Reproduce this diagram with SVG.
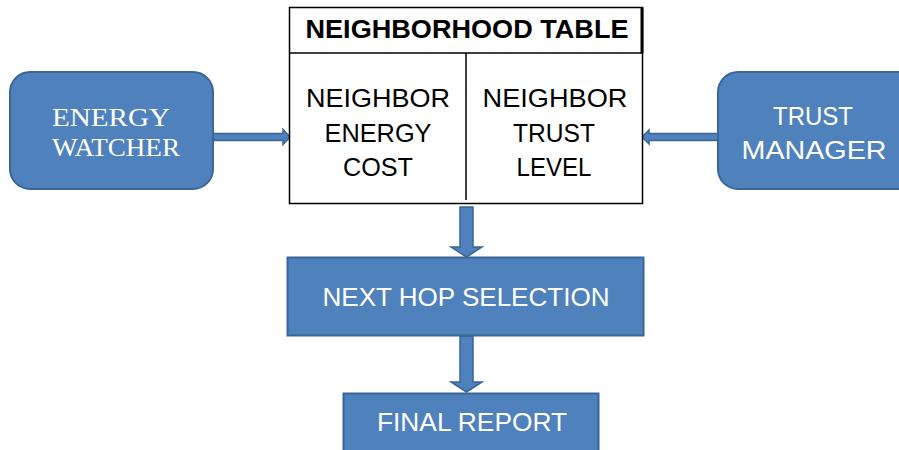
<svg xmlns="http://www.w3.org/2000/svg" width="899" height="450" viewBox="0 0 899 450">
<style>
.box{fill:#4F81BD;stroke:#3A6597;stroke-width:2}
.wt{fill:#FFFFFF;font-family:"Liberation Sans",Arial,sans-serif;font-size:26px;text-anchor:middle}
.serif{font-family:"Liberation Serif","Times New Roman",serif;font-size:26px}
.bt{fill:#000;font-family:"Liberation Sans",Arial,sans-serif;font-size:25px;text-anchor:middle}
.arr{fill:#4F81BD;stroke:#3A6597;stroke-width:1.5}
</style>
<rect width="899" height="450" fill="#FFFFFF"/>
<g id="connectors">
<path class="arr" d="M213,133.5 H283 V129.5 L290,137 L283,144.5 V140.5 H213 Z"/>
<path class="arr" d="M718,133.5 H649 V130 L642,137 L649,144 V140.5 H718 Z"/>
<path class="arr" d="M460,207 H473 V247 H482 L466.5,257 L451,247 H460 Z"/>
<path class="arr" d="M460,336 H473 V382 H482 L466.5,392 L451,382 H460 Z"/>
</g>
<g id="energy-watcher">
<rect class="box" x="10" y="72" width="203" height="117" rx="20"/>
<text class="wt serif" x="111" y="126" textLength="118" lengthAdjust="spacingAndGlyphs">ENERGY</text>
<text class="wt serif" x="116" y="156" textLength="128" lengthAdjust="spacingAndGlyphs">WATCHER</text>
</g>
<g id="trust-manager">
<rect class="box" x="718" y="72" width="200" height="117" rx="20"/>
<text class="wt" x="813" y="125" textLength="80" lengthAdjust="spacingAndGlyphs">TRUST</text>
<text class="wt" x="814" y="159" textLength="145" lengthAdjust="spacingAndGlyphs">MANAGER</text>
</g>
<g id="neighborhood-table">
<rect x="289.5" y="7.5" width="353" height="196" fill="#FFFFFF" stroke="#000" stroke-width="1.5"/>
<line x1="289.5" y1="53" x2="642.5" y2="53" stroke="#000" stroke-width="1.5"/>
<line x1="642" y1="7.5" x2="642" y2="53" stroke="#000" stroke-width="3"/>
<line x1="466" y1="53" x2="466" y2="200" stroke="#000" stroke-width="1.5"/>
<text class="bt" x="467" y="38" font-weight="bold" font-size="22" textLength="323" lengthAdjust="spacingAndGlyphs">NEIGHBORHOOD TABLE</text>
<text class="bt" x="378" y="107" textLength="144" lengthAdjust="spacingAndGlyphs">NEIGHBOR</text>
<text class="bt" x="378" y="142" textLength="107" lengthAdjust="spacingAndGlyphs">ENERGY</text>
<text class="bt" x="378" y="176" textLength="70" lengthAdjust="spacingAndGlyphs">COST</text>
<text class="bt" x="555" y="107" textLength="145" lengthAdjust="spacingAndGlyphs">NEIGHBOR</text>
<text class="bt" x="554" y="142" textLength="82" lengthAdjust="spacingAndGlyphs">TRUST</text>
<text class="bt" x="554" y="176" textLength="75" lengthAdjust="spacingAndGlyphs">LEVEL</text>
</g>
<g id="next-hop-selection">
<rect class="box" x="287.5" y="257.5" width="356" height="78"/>
<text class="wt" x="466" y="306" textLength="287" lengthAdjust="spacingAndGlyphs">NEXT HOP SELECTION</text>
</g>
<g id="final-report">
<rect class="box" x="343.5" y="393.5" width="255" height="70"/>
<text class="wt" x="472" y="431" textLength="190" lengthAdjust="spacingAndGlyphs">FINAL REPORT</text>
</g>
</svg>
